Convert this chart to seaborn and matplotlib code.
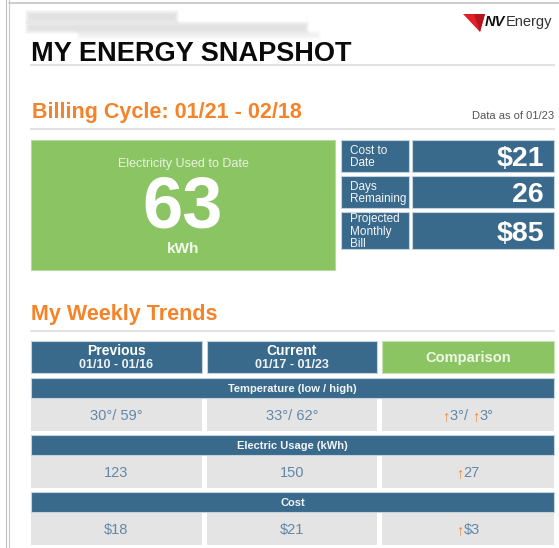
import matplotlib

matplotlib.use("Agg")
import matplotlib.pyplot as plt
import seaborn as sns
from matplotlib.patches import Polygon, Rectangle

page_title = "MY ENERGY SNAPSHOT"
billing_cycle = "Billing Cycle: 01/21 - 02/18"
data_as_of = "Data as of 01/23"

used_label = "Electricity Used to Date"
used_value = "63"
used_unit = "kWh"

snapshot_labels = ["Cost to\nDate", "Days\nRemaining", "Projected\nMonthly\nBill"]
snapshot_values = ["$21", "26", "$85"]

trends_title = "My Weekly Trends"
period_names = ["Previous", "Current"]
period_ranges = ["01/10 - 01/16", "01/17 - 01/23"]
comparison_name = "Comparison"
metric_names = ["Temperature (low / high)", "Electric Usage (kWh)", "Cost"]
previous_values = ["30°/ 59°", "123", "$18"]
current_values = ["33°/ 62°", "150", "$21"]
comparison_values = ["↑3°/ ↑3°", "↑27", "↑$3"]

# --- colours ---
BLUE = "#3A6A8B"
GREEN = "#8BC462"
ORANGE = "#F5832A"
CELL = "#E4E4E4"
VALUE_TXT = "#6287A6"
RULE = "#E2E2E2"

sns.set_theme(style="white")
plt.rcParams["font.family"] = ["Liberation Sans", "DejaVu Sans"]

W, H = 559, 548
fig = plt.figure(figsize=(W / 100, H / 100), dpi=100)
ax = fig.add_axes([0, 0, 1, 1])
ax.set_xlim(0, W)
ax.set_ylim(H, 0)
ax.axis("off")
renderer = fig.canvas.get_renderer()


def box(x0, y0, x1, y1, color, edge="none", alpha=1.0):
    ax.add_patch(Rectangle((x0, y0), x1 - x0, y1 - y0, facecolor=color,
                           edgecolor=edge, linewidth=0.8, alpha=alpha))


def text_width(s, **kw):
    t = ax.text(0, 0, s, **kw)
    w = t.get_window_extent(renderer).width
    t.remove()
    return w


def rule(y):
    ax.plot([30, 555], [y, y], color=RULE, lw=1.5, solid_capstyle="butt")


# page frame
ax.plot([6, 6], [0, H], color="#BDBDBD", lw=0.8)
ax.plot([9, 9], [0, H], color="#C8C8C8", lw=0.8)
ax.plot([9, W], [3, 3], color="#C4C4C4", lw=1.2)

# blurred address lines (soft stacked boxes)
for pad in [4, 3, 2, 1, 0]:
    a = 0.07
    box(29 - pad, 14 - pad, 175 + pad, 20 + pad, "#A8A8A8", alpha=a)
    box(29 - pad, 25 - pad, 305 + pad, 30 + pad, "#A8A8A8", alpha=a)
    box(80 - pad, 34 - pad, 317 + pad, 36 + pad, "#C0C0C0", alpha=a * 0.6)

# logo
ax.add_patch(Polygon([(463, 14), (485, 14), (480, 32)], closed=True,
                     facecolor="#E3202A", edgecolor="none"))
ax.add_patch(Polygon([(474, 14), (485, 14), (480, 32)], closed=True,
                     facecolor="#B5151D", edgecolor="none"))
nv_kw = dict(fontsize=10.5, fontweight="bold", fontstyle="italic", color="#111111")
ax.text(485, 26, "NV", va="baseline", ha="left", **nv_kw)
nv_w = text_width("NV", **nv_kw)
ax.text(485 + nv_w, 26, "Energy", va="baseline", ha="left", fontsize=10.5,
        color="#333333")

# headings
ax.text(31, 61, page_title, fontsize=19.5, fontweight="bold", color="#0A0A0A",
        va="baseline")
rule(65)
ax.text(32, 118, billing_cycle, fontsize=15.5, fontweight="bold", color=ORANGE,
        va="baseline")
ax.text(554, 119, data_as_of, fontsize=8, color="#555555", va="baseline", ha="right")
rule(129)

# electricity used tile
box(31, 140, 335, 270, GREEN, edge="#B7DA9C")
gx = (31 + 335) / 2
ax.text(gx, 167, used_label, fontsize=9, color="#E8F3DE", ha="center", va="baseline")
ax.text(gx, 227, used_value, fontsize=52, fontweight="bold", color="white",
        ha="center", va="baseline")
ax.text(gx, 253, used_unit, fontsize=11, fontweight="bold", color="#F4FAEF",
        ha="center", va="baseline")

# snapshot tiles
row_edges = [(140, 172), (176, 208), (212, 249)]
for (y0, y1), lab, val in zip(row_edges, snapshot_labels, snapshot_values):
    box(341, y0, 409, y1, BLUE, edge="#C5D3DE")
    box(412, y0, 554, y1, BLUE, edge="#C5D3DE")
    lines = lab.split("\n")
    cy = (y0 + y1) / 2
    step, cap = 12.3, 8.5
    first = cy - (cap + (len(lines) - 1) * step) / 2 + cap
    for i, ln in enumerate(lines):
        ax.text(350, first + i * step, ln, fontsize=8.5, color="#F2F6F9",
                va="baseline", ha="left")
    ax.text(544, cy + 10, val, fontsize=20.5, fontweight="bold", color="white",
            va="baseline", ha="right")

# weekly trends
ax.text(31, 320, trends_title, fontsize=15.5, fontweight="bold", color=ORANGE,
        va="baseline")
rule(331)

cols = [(31, 202), (207, 377), (382, 554)]
head_top, head_bot = 341, 373
for (x0, x1), name, rng in zip(cols[:2], period_names, period_ranges):
    box(x0, head_top, x1, head_bot, BLUE, edge="#C5D3DE")
    cx = (x0 + x1) / 2
    ax.text(cx, 355, name, fontsize=10, fontweight="bold", color="white",
            ha="center", va="baseline")
    ax.text(cx, 368, rng, fontsize=9, fontweight="semibold", color="#EEF3F7",
            ha="center", va="baseline")
x0, x1 = cols[2]
box(x0, head_top, x1, head_bot, GREEN, edge="#C9E3B5")
ax.text((x0 + x1) / 2, 362, comparison_name, fontsize=10.5, fontweight="bold",
        color="#F0F8E8", ha="center", va="baseline")


def draw_compare(cx, y, s, size):
    # split into arrow / text segments so the arrows can be orange
    segs, cur = [], ""
    for ch in s:
        if ch == "↑":
            if cur:
                segs.append((cur, VALUE_TXT))
                cur = ""
            segs.append((ch, ORANGE))
        else:
            cur += ch
    if cur:
        segs.append((cur, VALUE_TXT))
    kw = dict(fontsize=size)
    ref = text_width("x", **kw)
    total = text_width(s, **kw)
    x = cx - total / 2
    prefix = ""
    for seg, col in segs:
        off = text_width(prefix + "x", **kw) - ref if prefix else 0
        weight = "bold" if seg == "↑" else "normal"
        ax.text(x + off, y, seg, color=col, ha="left", va="baseline",
                fontweight=weight, **kw)
        prefix += seg


bar_tops = [378, 435, 492]
bar_h, cell_h = 20, 32
for top, name, pv, cv, cmp in zip(bar_tops, metric_names, previous_values,
                                  current_values, comparison_values):
    box(31, top, 554, top + bar_h, BLUE, edge="#C5D3DE")
    ax.text((31 + 554) / 2, top + bar_h / 2 + 4, name, fontsize=8, fontweight="bold",
            color="#F2F6F9", ha="center", va="baseline")
    cy0 = top + bar_h + 1
    for (x0, x1) in cols:
        box(x0, cy0, x1, cy0 + cell_h, CELL)
    base = cy0 + cell_h / 2 + 5
    ax.text(sum(cols[0]) / 2, base, pv, fontsize=10.5, color=VALUE_TXT,
            ha="center", va="baseline")
    ax.text(sum(cols[1]) / 2, base, cv, fontsize=10.5, color=VALUE_TXT,
            ha="center", va="baseline")
    draw_compare(sum(cols[2]) / 2, base, cmp, 10.5)

fig.savefig("out.png", dpi=100)
